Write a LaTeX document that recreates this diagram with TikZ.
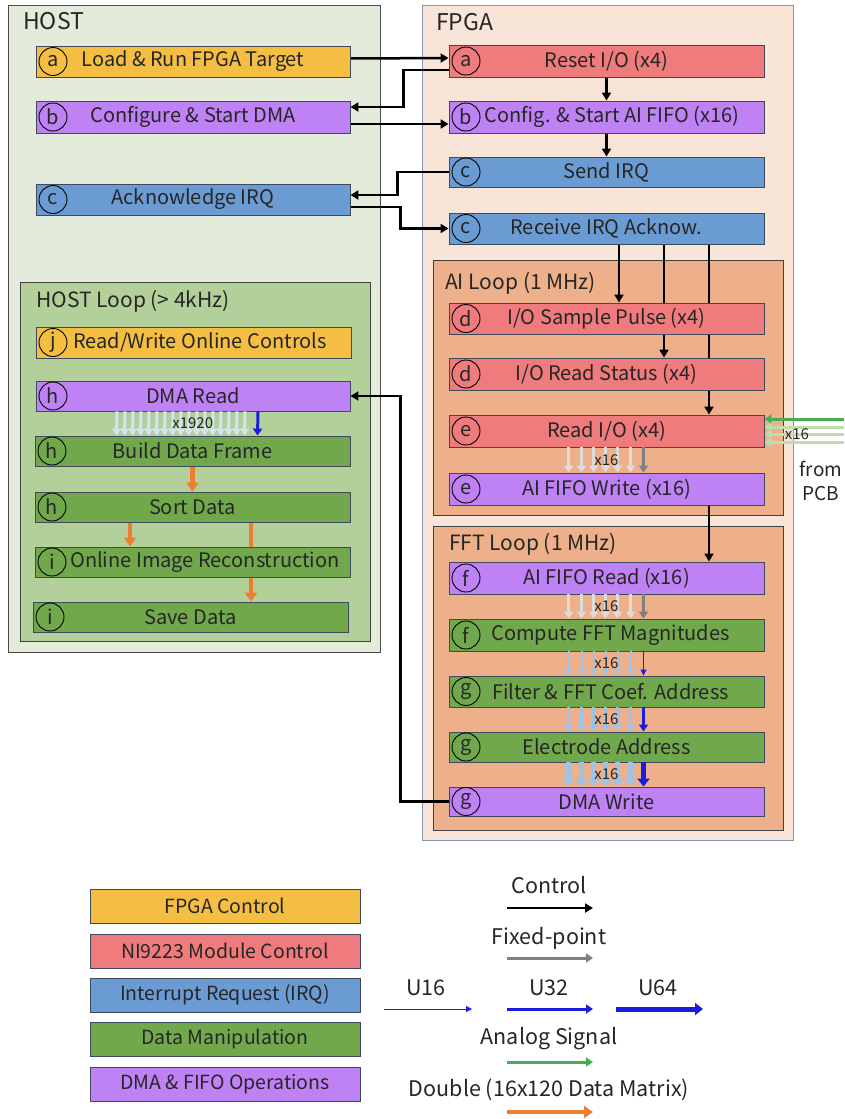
\documentclass[tikz,border=0pt]{standalone}
\usepackage{fontspec}
\setmainfont{Noto Sans CJK JP}
\usetikzlibrary{arrows.meta,calc}
\pgfdeclarelayer{back}\pgfdeclarelayer{mid}
\pgfsetlayers{back,mid,main}
\definecolor{cyel}{HTML}{F4BE42}
\definecolor{cred}{HTML}{EF7B7D}
\definecolor{cpur}{HTML}{BF82F4}
\definecolor{cblu}{HTML}{6A9BD2}
\definecolor{cgrn}{HTML}{71A84C}
\definecolor{hostbg}{HTML}{E3ECDA}
\definecolor{hloopbg}{HTML}{B4D09A}
\definecolor{fpgabg}{HTML}{F9E5D7}
\definecolor{loopbg}{HTML}{EDB08A}
\definecolor{bordc}{HTML}{3E4A5C}
\definecolor{fpgabord}{HTML}{8497B0}
\definecolor{lblue}{HTML}{9DC3E6}
\definecolor{pblue}{HTML}{D3E3F3}
\definecolor{lgray}{HTML}{DCDCDC}
\definecolor{dgray}{HTML}{808080}
\definecolor{dblue}{HTML}{1C1CE0}
\definecolor{cgreen}{HTML}{4CAB50}
\definecolor{lgreen}{HTML}{BCDDAE}
\definecolor{corange}{HTML}{ED7D31}
\newcommand\bx[8]{%
  \node[box,fill=#6,minimum width={(#4)-(#2)},minimum height={(#5)-(#3)}] (#1) at ({((#2)+(#4))/2},{((#3)+(#5))/2}) {#8};
  \node[letter] (#1-l) at ({(#2)+17},{((#3)+(#5))/2}) {#7};}
\newcommand\bundle[6]{%
  \foreach \dx in {-38,-25,-13,-1,11,24} \draw[#3] ([xshift=\dx pt]#1.south) -- ([xshift=\dx pt]#2.north);
  \draw[#4] ([xshift=37pt]#1.south) -- ([xshift=37pt]#2.north);
  \node[lab] (#6) at ($(#1.south)!0.5!(#2.north)$) {#5};}
\begin{document}
\begin{tikzpicture}[x=1pt,y=-1pt,
  box/.style={draw=bordc, line width=0.9pt, inner sep=0pt, font=\fontsize{20}{22}\selectfont, text=black!85},
  letter/.style={circle, draw=black, line width=0.9pt, minimum size=28pt, inner sep=0pt, font=\fontsize{20}{22}\selectfont, text=black!85},
  legbox/.style={draw=bordc, line width=0.9pt, inner sep=0pt, minimum width=270pt, minimum height=34pt, font=\fontsize{19.5}{22}\selectfont, text=black!85},
  title/.style={anchor=base west, inner sep=0pt, font=\fontsize{23}{26}\selectfont, text=black!85},
  ltitle/.style={anchor=base west, inner sep=0pt, font=\fontsize{21}{24}\selectfont, text=black!85},
  lab/.style={inner sep=0pt, font=\fontsize{15}{17}\selectfont, text=black!85},
  legtxt/.style={inner sep=0pt, font=\fontsize{21.5}{24}\selectfont, text=black!85},
  ctrl/.style={line width=2.5pt, -{Triangle[length=8pt,width=9pt]}},
  garrow/.style={line width=3pt, draw=#1, -{Triangle[length=7pt,width=9pt]}},
  lg/.style={garrow=lgray}, dg/.style={garrow=dgray},
  lb1/.style={line width=2pt, draw=lblue, -{Triangle[length=6pt,width=7pt]}},
  db1/.style={line width=1pt, draw=dblue, -{Triangle[length=6pt,width=6pt]}},
  lb2/.style={line width=3pt, draw=lblue, -{Triangle[length=7pt,width=9pt]}},
  db2/.style={line width=3pt, draw=dblue, -{Triangle[length=7pt,width=9pt]}},
  lb3/.style={line width=5pt, draw=lblue, -{Triangle[length=8pt,width=12pt]}},
  db3/.style={line width=5pt, draw=dblue, -{Triangle[length=8pt,width=12pt]}},
  pb/.style={line width=3pt, draw=pblue, -{Triangle[length=7pt,width=9pt]}},
  oarrow/.style={line width=4.5pt, draw=corange, -{Triangle[length=9pt,width=12pt]}},
  grarrow/.style={line width=3pt, draw=cgreen, -{Triangle[length=7pt,width=9pt]}},
  lgrarrow/.style={line width=3pt, draw=lgreen, -{Triangle[length=7pt,width=9pt]}}]
\useasboundingbox (0,0) rectangle (844,1119);
\begin{pgfonlayer}{back}
  \fill[white] (0,0) rectangle (844,1119);
  \draw[fill=hostbg, draw=black!70, line width=1pt] (8,5) rectangle (380,652);
  \draw[fill=hloopbg, draw=black!75, line width=1pt] (20,282) rectangle (370,641);
  \draw[fill=fpgabg, draw=fpgabord, line width=1pt] (422,5) rectangle (793,840);
  \draw[fill=loopbg, draw=black!75, line width=1pt] (433,260) rectangle (783,515);
  \draw[fill=loopbg, draw=black!75, line width=1pt] (433,526) rectangle (783,830);
\end{pgfonlayer}
\node[title] (thost) at (23,29) {HOST};
\node[title] (tfpga) at (436,30) {FPGA};
\node[ltitle] (thloop) at (36,307) {HOST Loop (> 4kHz)};
\node[ltitle] (tailoop) at (445,289) {AI Loop (1 MHz)};
\node[ltitle] (tfftloop) at (449,550) {FFT Loop (1 MHz)};
% HOST
\bx{load}{36}{46}{350}{77}{cyel}{a}{Load \& Run FPGA Target}
\bx{conf}{36}{101}{350}{133}{cpur}{b}{Configure \& Start DMA}
\bx{ack}{36}{184}{350}{215}{cblu}{c}{Acknowledge IRQ}
% FPGA
\bx{reset}{449}{45}{764}{77}{cred}{a}{Reset I/O (x4)}
\bx{cfgai}{449}{101}{764}{133}{cpur}{b}{\hspace*{11pt}Config. \& Start AI FIFO (x16)}
\bx{send}{449}{157}{764}{187}{cblu}{c}{Send IRQ}
\bx{recv}{449}{213}{764}{244}{cblu}{c}{Receive IRQ Acknow.}
\bx{sample}{449}{303}{764}{334}{cred}{d}{I/O Sample Pulse (x4)}
\bx{status}{449}{358}{764}{390}{cred}{d}{I/O Read Status (x4)}
\bx{readio}{449}{415}{764}{447}{cred}{e}{Read I/O (x4)}
\bx{aiw}{449}{473}{764}{505}{cpur}{e}{AI FIFO Write (x16)}
\bx{air}{449}{562}{764}{594}{cpur}{f}{AI FIFO Read (x16)}
\bx{fftm}{449}{619}{764}{651}{cgrn}{f}{\hspace*{8pt}Compute FFT Magnitudes}
\bx{filt}{449}{676}{764}{707}{cgrn}{g}{\hspace*{8pt}Filter \& FFT Coef. Address}
\bx{elec}{449}{732}{764}{762}{cgrn}{g}{Electrode Address}
\bx{dmaw}{449}{787}{764}{816}{cpur}{g}{DMA Write}
% HOST loop
\bx{rw}{36}{327}{351}{358}{cyel}{j}{\hspace*{13pt}Read/Write Online Controls}
\bx{dmar}{36}{381}{350}{411}{cpur}{h}{DMA Read}
\bx{build}{35}{436}{350}{466}{cgrn}{h}{Build Data Frame}
\bx{sort}{35}{492}{350}{522}{cgrn}{h}{Sort Data}
\bx{recon}{35}{547}{350}{577}{cgrn}{i}{\hspace*{25pt}Online Image Reconstruction}
\bx{save}{33}{602}{348}{632}{cgrn}{i}{Save Data}
% connectors
\coordinate (xo) at (251,0);
\begin{pgfonlayer}{mid}
  \draw[ctrl] ([yshift=3pt]load.east) -- ([yshift=3pt]reset.west);
  \draw[ctrl] ([yshift=-9pt]reset.west) -- ++(-45,0) |- ([yshift=10pt]conf.east);
  \draw[ctrl] ([yshift=-7pt]conf.east) -- ([yshift=-7pt]cfgai.west);
  \draw[ctrl] (reset.south) -- (cfgai.north);
  \draw[ctrl] (cfgai.south) -- (send.north);
  \draw[ctrl] (send.west) -- ++(-51,0) |- ([yshift=4.5pt]ack.east);
  \draw[ctrl] ([yshift=-7.5pt]ack.east) -- ++(50,0) |- (recv.west);
  \draw[ctrl] ([xshift=12.5pt]recv.south) -- ([xshift=12.5pt]sample.north);
  \draw[ctrl] ([xshift=57.5pt]recv.south) -- ([xshift=57.5pt]status.north);
  \draw[ctrl] ([xshift=102.5pt]recv.south) -- ([xshift=102.5pt]readio.north);
  \draw[ctrl] ([xshift=102.5pt]aiw.south) -- ([xshift=102.5pt]air.north);
  \draw[ctrl] (dmaw.west) -- ++(-48,0) |- (dmar.east);
  \draw[oarrow] (build.south) -- (sort.north);
  \draw[oarrow] ([xshift=-62.5pt]sort.south) -- ([xshift=-62.5pt]recon.north);
  \draw[oarrow] (sort.south -| xo) -- (save.north -| xo);
\end{pgfonlayer}
% PCB inputs
\coordinate (pcb1) at (844,419);
\coordinate (pcb2) at (844,427);
\coordinate (pcb3) at (844,434);
\coordinate (pcb4) at (844,442);
\draw[lgrarrow] (pcb2) -- (pcb2 -| readio.east);
\draw[lgrarrow] (pcb3) -- (pcb3 -| readio.east);
\draw[lgrarrow] (pcb4) -- (pcb4 -| readio.east);
\draw[grarrow] (pcb1) -- (pcb1 -| readio.east);
\node[lab] (pcbx) at (797,434) {x16};
\node[legtxt, align=center, font=\fontsize{19}{24}\selectfont] (pcbl) at (821,481) {from\\PCB};
% bundles
\bundle{readio}{aiw}{lg}{dg}{x16}{b1}
\bundle{air}{fftm}{lg}{dg}{x16}{b2}
\bundle{fftm}{filt}{lb1}{db1}{x16}{b3}
\bundle{filt}{elec}{lb2}{db2}{x16}{b4}
\bundle{elec}{dmaw}{lb3}{db3}{x16}{b5}
\foreach \dx in {-76,-68,...,56} \draw[pb] ([xshift=\dx pt]dmar.south) -- ([xshift=\dx pt]build.north);
\draw[db2] ([xshift=65pt]dmar.south) -- ([xshift=65pt]build.north);
\node[lab] (x1920) at ($(dmar.south)!0.5!(build.north)$) {x1920};
% legend
\node[legbox, fill=cyel] (lg1) at (225,906) {FPGA Control};
\node[legbox, fill=cred] (lg2) at (225,951) {NI9223 Module Control};
\node[legbox, fill=cblu] (lg3) at (225,995) {Interrupt Request (IRQ)};
\node[legbox, fill=cgrn] (lg4) at (225,1039) {Data Manipulation};
\node[legbox, fill=cpur] (lg5) at (225,1084) {DMA \& FIFO Operations};
\node[legtxt] (tctrl) at (549,885) {Control};
\coordinate (c1a) at (507,908); \coordinate (c1b) at (593,908);
\draw[ctrl] (c1a) -- (c1b);
\node[legtxt] (tfix) at (549,938) {Fixed-point};
\coordinate (c2a) at (507,958); \coordinate (c2b) at (593,958);
\draw[dg] (c2a) -- (c2b);
\node[legtxt] (tu16) at (426,988) {U16};
\node[legtxt] (tu32) at (549,988) {U32};
\node[legtxt] (tu64) at (658,988) {U64};
\coordinate (c3a) at (384,1009); \coordinate (c3b) at (472,1009);
\draw[db1] (c3a) -- (c3b);
\coordinate (c4a) at (507,1009); \coordinate (c4b) at (593,1009);
\draw[db2] (c4a) -- (c4b);
\coordinate (c5a) at (616,1009); \coordinate (c5b) at (703,1009);
\draw[db3] (c5a) -- (c5b);
\node[legtxt] (tana) at (549,1039) {Analog Signal};
\coordinate (c6a) at (507,1062); \coordinate (c6b) at (593,1062);
\draw[grarrow] (c6a) -- (c6b);
\node[legtxt] (tdbl) at (549,1090) {Double (16x120 Data Matrix)};
\coordinate (c7a) at (507,1112); \coordinate (c7b) at (593,1112);
\draw[oarrow] (c7a) -- (c7b);
\end{tikzpicture}
\end{document}
